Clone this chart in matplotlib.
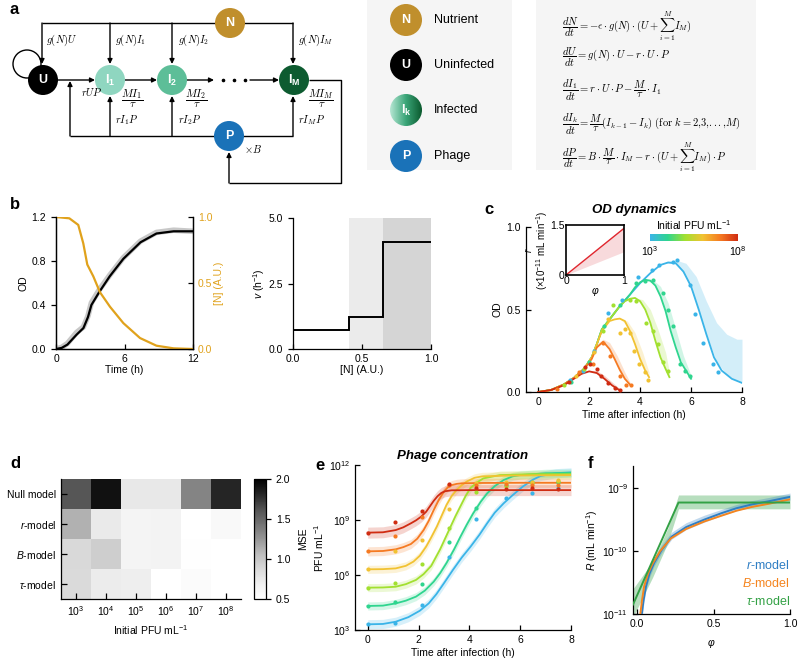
import numpy as np
import matplotlib
matplotlib.use('Agg')
import matplotlib.pyplot as plt
from matplotlib.colors import LinearSegmentedColormap, Normalize
from matplotlib.patches import Circle, Rectangle
from matplotlib.cm import ScalarMappable
from matplotlib.ticker import NullLocator

plt.rcParams['font.family'] = ['Liberation Sans', 'DejaVu Sans']
plt.rcParams['font.size'] = 7.5
plt.rcParams['mathtext.fontset'] = 'custom'
plt.rcParams['mathtext.rm'] = 'Liberation Sans'
plt.rcParams['mathtext.it'] = 'Liberation Sans:italic'
plt.rcParams['mathtext.bf'] = 'Liberation Sans:bold'
plt.rcParams['axes.linewidth'] = 0.9
plt.rcParams['xtick.major.width'] = 0.9
plt.rcParams['ytick.major.width'] = 0.9
plt.rcParams['xtick.major.size'] = 3.5
plt.rcParams['ytick.major.size'] = 3.5

# ---------------- data ----------------
# b: batch growth without phage
b_time = [0, 0.5, 1.0, 1.8, 2.4, 2.8, 3.1, 3.8, 4.7, 5.9, 7.4, 8.8, 10.3, 12]
b_od_fit = [0.0, 0.01, 0.04, 0.13, 0.19, 0.29, 0.40, 0.52, 0.66, 0.82, 0.97, 1.05, 1.07, 1.07]
b_od_meas = [0.0, 0.015, 0.05, 0.15, 0.2, 0.3, 0.42, 0.54, 0.67, 0.83, 0.98, 1.06, 1.08, 1.07]
b_n_time = [0, 1.17, 1.95, 2.39, 2.74, 3.27, 3.85, 4.73, 5.9, 7.36, 8.8, 10.3, 12]
b_nutrient = [1.0, 0.99, 0.94, 0.80, 0.64, 0.55, 0.43, 0.32, 0.196, 0.083, 0.025, 0.005, 0.0]
b_n_edges = [0.0, 0.408, 0.654, 1.0]
b_rate = [0.72, 1.24, 4.09]

# c: OD dynamics, initial PFU 1e3 ... 1e8
pfu_labels = ['1e3', '1e4', '1e5', '1e6', '1e7', '1e8']
pfu_colors = ['#3ab4e8', '#2fd58f', '#a2e030', '#f1c232', '#f57a22', '#d02c12']

od_fit_t = [
    [0, 0.5, 1.0, 1.4, 1.8, 2.1, 2.3, 2.5, 2.8, 3.2, 3.6, 4.0, 4.4, 4.8, 5.1, 5.4, 5.7, 6.0, 6.3, 6.6, 6.9, 7.2, 7.6, 8.0],
    [0, 0.5, 1.0, 1.4, 1.8, 2.1, 2.3, 2.5, 2.8, 3.2, 3.6, 3.8, 4.0, 4.2, 4.4, 4.6, 4.8, 5.0, 5.2, 5.4, 5.6, 5.8, 6.0],
    [0, 0.5, 1.0, 1.4, 1.8, 2.1, 2.3, 2.5, 2.8, 3.2, 3.4, 3.6, 3.8, 4.0, 4.2, 4.4, 4.6, 4.8, 5.0, 5.15],
    [0, 0.5, 1.0, 1.4, 1.8, 2.1, 2.3, 2.5, 2.8, 3.0, 3.2, 3.4, 3.6, 3.8, 4.0, 4.2, 4.35],
    [0, 0.5, 1.0, 1.4, 1.8, 2.1, 2.3, 2.55, 2.8, 3.0, 3.2, 3.4, 3.6],
    [0, 0.5, 1.0, 1.4, 1.7, 2.0, 2.3, 2.6, 2.9, 3.2],
]
od_fit = [
    [0.0, 0.012, 0.045, 0.085, 0.14, 0.21, 0.29, 0.38, 0.44, 0.52, 0.59, 0.66, 0.72, 0.77, 0.785, 0.78, 0.73, 0.64, 0.50, 0.35, 0.21, 0.13, 0.08, 0.055],
    [0.0, 0.012, 0.045, 0.085, 0.14, 0.21, 0.29, 0.38, 0.44, 0.52, 0.59, 0.635, 0.665, 0.68, 0.675, 0.645, 0.58, 0.49, 0.37, 0.27, 0.18, 0.13, 0.08],
    [0.0, 0.012, 0.045, 0.085, 0.14, 0.21, 0.29, 0.38, 0.44, 0.52, 0.55, 0.565, 0.57, 0.55, 0.50, 0.42, 0.31, 0.21, 0.14, 0.09],
    [0.0, 0.012, 0.045, 0.085, 0.14, 0.21, 0.29, 0.37, 0.43, 0.44, 0.445, 0.43, 0.37, 0.29, 0.20, 0.13, 0.09],
    [0.0, 0.012, 0.045, 0.085, 0.14, 0.20, 0.27, 0.305, 0.26, 0.20, 0.135, 0.08, 0.045],
    [0.0, 0.012, 0.04, 0.08, 0.11, 0.125, 0.115, 0.08, 0.04, 0.01],
]
od_band_t = [
    [5.0, 5.4, 5.8, 6.2, 6.6, 7.0, 7.4, 7.8, 8.0],
    [4.2, 4.5, 4.8, 5.1, 5.4, 5.7, 6.0],
    [3.8, 4.1, 4.4, 4.7, 5.0, 5.15],
    [3.2, 3.5, 3.8, 4.1, 4.35],
    [2.3, 2.55, 2.8, 3.1, 3.4, 3.6],
    [2.0, 2.3, 2.6, 2.9, 3.2],
]
od_band_hi = [
    [0.79, 0.80, 0.78, 0.70, 0.55, 0.42, 0.35, 0.32, 0.32],
    [0.68, 0.68, 0.64, 0.54, 0.38, 0.22, 0.10],
    [0.57, 0.56, 0.50, 0.38, 0.24, 0.12],
    [0.445, 0.43, 0.36, 0.24, 0.12],
    [0.29, 0.32, 0.30, 0.22, 0.12, 0.06],
    [0.13, 0.13, 0.10, 0.06, 0.02],
]
od_pts_t = [
    [1.25, 1.75, 2.2, 2.75, 3.3, 3.9, 4.45, 4.75, 5.3, 5.45, 5.95, 6.15, 6.45, 6.85, 7.05],
    [1.3, 2.0, 2.6, 3.2, 3.85, 4.2, 4.5, 4.9, 5.1, 5.3, 5.55, 5.75, 5.95],
    [1.0, 1.8, 2.55, 2.95, 3.6, 3.85, 4.25, 4.5, 4.7, 4.9, 5.1],
    [1.5, 2.2, 2.75, 3.2, 3.4, 3.6, 3.75, 3.95, 4.2, 4.3],
    [0.75, 1.6, 2.15, 2.55, 2.8, 3.2, 3.45, 3.65],
    [1.2, 1.85, 2.05, 2.3, 2.45, 2.75, 3.0, 3.2],
]
od_pts = [
    [0.07, 0.13, 0.25, 0.48, 0.56, 0.70, 0.74, 0.77, 0.79, 0.80, 0.65, 0.47, 0.30, 0.17, 0.12],
    [0.06, 0.18, 0.40, 0.53, 0.66, 0.67, 0.68, 0.60, 0.50, 0.40, 0.17, 0.13, 0.10],
    [0.04, 0.14, 0.37, 0.53, 0.56, 0.55, 0.42, 0.37, 0.29, 0.18, 0.13],
    [0.10, 0.24, 0.44, 0.36, 0.38, 0.36, 0.25, 0.17, 0.12, 0.07],
    [0.02, 0.12, 0.17, 0.30, 0.22, 0.10, 0.04, 0.04],
    [0.06, 0.15, 0.17, 0.14, 0.10, 0.055, 0.025, 0.01],
]
inset_phi = [0.0, 1.0]
inset_r = [0.0, 1.4]
inset_r_lo = [0.0, 0.7]
inset_r_hi = [0.0, 1.45]

# d: MSE per model and initial PFU
d_models = ['Null model', r'$r$-model', r'$B$-model', r'$\tau$-model']
d_pfu = [r'$10^3$', r'$10^4$', r'$10^5$', r'$10^6$', r'$10^7$', r'$10^8$']
d_mse = [
    [1.60, 1.91, 0.75, 0.75, 1.34, 1.81],
    [1.12, 0.74, 0.63, 0.65, 0.50, 0.57],
    [0.87, 0.95, 0.63, 0.65, 0.51, 0.50],
    [0.86, 0.72, 0.70, 0.50, 0.55, 0.50],
]

# e: phage concentration (log10 PFU/mL)
e_fit_t = [
    [0, 0.6, 1.1, 1.6, 2.05, 2.4, 2.7, 3.0, 3.35, 3.7, 4.05, 4.4, 4.7, 5.0, 5.35, 5.7, 6.1, 6.5, 6.8, 7.4, 8.0],
    [0, 0.6, 1.1, 1.5, 1.9, 2.25, 2.6, 2.85, 3.1, 3.4, 3.65, 3.9, 4.15, 4.45, 4.7, 5.0, 5.35, 5.7, 6.0, 7.0, 8.0],
    [0, 0.6, 1.1, 1.5, 1.9, 2.2, 2.5, 2.85, 3.05, 3.25, 3.45, 3.65, 3.85, 4.05, 4.3, 4.55, 5.2, 6.5, 8.0],
    [0, 0.6, 1.1, 1.5, 1.8, 2.05, 2.3, 2.5, 2.72, 2.9, 3.1, 3.3, 3.5, 3.7, 3.9, 4.2, 4.5, 5.5, 8.0],
    [0, 0.6, 1.1, 1.4, 1.7, 1.95, 2.2, 2.4, 2.6, 2.8, 3.0, 3.15, 3.3, 3.5, 3.7, 4.5, 6.0, 8.0],
    [0, 0.6, 1.1, 1.4, 1.7, 1.9, 2.1, 2.3, 2.45, 2.6, 2.75, 2.9, 3.05, 3.3, 4.0, 6.0, 8.0],
]
e_fit_log = [
    [3.31, 3.33, 3.45, 3.7, 4.05, 4.45, 4.95, 5.55, 6.27, 6.95, 7.55, 8.2, 8.82, 9.4, 9.91, 10.35, 10.82, 11.2, 11.4, 11.55, 11.6],
    [4.31, 4.33, 4.45, 4.6, 4.82, 5.15, 5.64, 6.1, 6.65, 7.4, 8.09, 8.75, 9.36, 10.0, 10.45, 10.85, 11.18, 11.38, 11.45, 11.55, 11.57],
    [5.31, 5.32, 5.36, 5.5, 5.73, 6.05, 6.5, 7.4, 8.0, 8.6, 9.2, 9.75, 10.3, 10.75, 11.05, 11.27, 11.45, 11.5, 11.5],
    [6.31, 6.32, 6.36, 6.5, 6.73, 7.05, 7.55, 8.05, 8.64, 9.2, 9.82, 10.3, 10.64, 10.9, 11.1, 11.3, 11.38, 11.42, 11.45],
    [7.29, 7.31, 7.4, 7.52, 7.69, 7.98, 8.45, 8.95, 9.55, 10.1, 10.55, 10.78, 10.9, 10.97, 11.0, 11.02, 11.03, 11.03],
    [8.31, 8.33, 8.45, 8.6, 8.82, 8.98, 9.18, 9.45, 9.75, 10.05, 10.3, 10.48, 10.57, 10.62, 10.63, 10.63, 10.63],
]
e_band = [0.25, 0.22, 0.22, 0.22, 0.25, 0.3]
e_pts_t = [0, 1.08, 2.13, 3.18, 4.25, 5.45, 6.45, 7.5]
e_pts_log = [
    [3.31, 3.4, 4.35, 7.0, 9.07, 10.18, 10.5, 10.75],
    [4.31, 4.54, 5.49, 7.82, 9.66, 10.9, 11.1, 11.05],
    [5.31, 5.55, 6.58, 8.58, 10.55, 10.85, 11.0, 11.15],
    [6.31, 7.31, 7.91, 9.58, 11.0, 11.1, 11.05, 11.2],
    [7.29, 8.14, 9.15, 10.9, 10.9, 10.95, 10.9, 10.9],
    [8.31, 8.91, 9.49, 10.96, 10.75, 10.7, 10.75, 10.7],
]

# f: effective adsorption rate vs phi (log10 mL/min)
f_phi_r = [0.03, 0.04, 0.057, 0.08, 0.11, 0.16, 0.226, 0.32, 0.44, 0.55, 0.65, 0.75, 0.86, 1.0]
f_r = [-11.0, -10.8, -10.56, -10.36, -10.19, -9.98, -9.77, -9.62, -9.50, -9.40, -9.32, -9.26, -9.21, -9.14]
f_r_hi = [-10.9, -10.7, -10.48, -10.28, -10.11, -9.9, -9.70, -9.55, -9.43, -9.34, -9.26, -9.2, -9.15, -9.08]
f_r_lo = [-11.1, -10.88, -10.62, -10.42, -10.24, -10.03, -9.81, -9.66, -9.54, -9.44, -9.36, -9.3, -9.25, -9.19]
f_phi_b = [0.02, 0.03, 0.045, 0.07, 0.1, 0.15, 0.22, 0.32, 0.44, 0.55, 0.65, 0.75, 0.86, 1.0]
f_b = [-11.0, -10.8, -10.56, -10.36, -10.2, -10.0, -9.8, -9.65, -9.53, -9.44, -9.36, -9.3, -9.25, -9.18]
f_phi_tau = [-0.028, 0.27, 1.0]
f_tau = [-10.85, -9.23, -9.23]
f_phi_tau_band = [-0.028, 0.1, 0.2, 0.27, 1.0]
f_tau_hi = [-10.6, -10.17, -9.64, -9.11, -9.11]
f_tau_lo = [-11.05, -10.42, -9.87, -9.33, -9.33]

# ---------------- figure ----------------
W, H = 800, 661
fig = plt.figure(figsize=(8, 6.61), dpi=100)


def box(x0, y0, x1, y1):
    return [x0 / W, 1 - y1 / H, (x1 - x0) / W, (y1 - y0) / H]


def panel_letter(x, y, s):
    fig.text(x / W, 1 - y / H, s, fontsize=12, fontweight='bold', ha='left', va='center')


# ---- a: model scheme ----
ax = fig.add_axes(box(0, 0, 800, 185))
ax.set_xlim(0, 800)
ax.set_ylim(185, 0)
ax.axis('off')


def node(x, y, c, s, r=15, fs=9):
    ax.add_patch(Circle((x, y), r, fc=c, ec='none', zorder=3))
    ax.text(x, y, s, color='w', ha='center', va='center', fontweight='bold', fontsize=fs, zorder=4)


def seg(xs, ys):
    ax.plot(xs, ys, color='k', lw=1.0, solid_capstyle='butt', zorder=1)


def arr(x0, y0, x1, y1):
    ax.annotate('', xy=(x1, y1), xytext=(x0, y0),
                arrowprops=dict(arrowstyle='-|>', lw=1.0, color='k', mutation_scale=7,
                                shrinkA=0, shrinkB=0), zorder=2)


def mlab(x, y, s, ha='left', fs=7.5):
    ax.text(x, y, s, ha=ha, va='center', fontsize=fs, math_fontfamily='cm')


seg([42, 293], [23, 23])
for xx in [42, 110, 172, 293]:
    arr(xx, 23, xx, 64)
ax.add_patch(Circle((27, 64), 14, fc='none', ec='k', lw=1.0, zorder=1))
arr(58, 80, 95, 80)
arr(125, 80, 157, 80)
arr(187, 80, 214, 80)
for xx in [223, 234, 245]:
    ax.plot(xx, 80, 'o', color='k', ms=1.6)
arr(250, 80, 279, 80)
seg([309, 341, 341, 229], [80, 80, 183, 183])
arr(229, 183, 229, 152)
seg([70, 293], [136, 136])
arr(70, 136, 70, 81)
for xx in [110, 172, 293]:
    arr(xx, 136, xx, 96)

node(230, 23, '#c08f2c', 'N')
node(43, 80, 'k', 'U')
node(110, 80, '#8fd6c0', r'$\mathbf{I_1}$')
node(172, 80, '#5dbe98', r'$\mathbf{I_2}$')
node(294, 80, '#0d5b30', r'$\mathbf{I_M}$')
node(229, 136, '#1a72b8', 'P')

mlab(46, 40, r'$g(N)U$')
mlab(115, 40, r'$g(N)I_1$')
mlab(178, 40, r'$g(N)I_2$')
mlab(298, 40, r'$g(N)I_M$')
mlab(92, 92, r'$rUP$', ha='center')
mlab(132, 99, r'$\dfrac{MI_1}{\tau}$', ha='center', fs=8)
mlab(196, 99, r'$\dfrac{MI_2}{\tau}$', ha='center', fs=8)
mlab(321, 99, r'$\dfrac{MI_M}{\tau}$', ha='center', fs=8)
mlab(115, 120, r'$rI_1P$')
mlab(178, 120, r'$rI_2P$')
mlab(298, 120, r'$rI_MP$')
mlab(244, 149, r'$\times B$')

# legend box
ax.add_patch(Rectangle((367, 0), 145, 170, fc='#f5f5f5', ec='none', zorder=0))
leg_items = [('N', '#c08f2c', 'Nutrient'), ('U', 'k', 'Uninfected'),
             (None, None, 'Infected'), ('P', '#1a72b8', 'Phage')]
for i, (s, c, name) in enumerate(leg_items):
    yy = [20, 65, 110, 156][i]
    if s is None:
        circ = Circle((406, yy), 16, transform=ax.transData)
        im = ax.imshow(np.linspace(0, 1, 100).reshape(1, -1),
                       cmap=LinearSegmentedColormap.from_list('inf', ['#b5e6d3', '#3aa578', '#0b5a2e']),
                       extent=(390, 422, yy + 16, yy - 16), aspect='auto', zorder=3)
        im.set_clip_path(circ)
        ax.text(406, yy, r'$\mathbf{I_k}$', color='w', ha='center', va='center', fontsize=9, zorder=4)
    else:
        node(406, yy, c, s, r=16)
    ax.text(434, yy, name, ha='left', va='center', fontsize=9)

# equations box
ax.add_patch(Rectangle((536, 0), 220, 170, fc='#f5f5f5', ec='none', zorder=0))
eqs = [
    r'$\dfrac{dN}{dt}=-\epsilon\cdot g(N)\cdot(U+\sum_{i=1}^{M}I_M)$',
    r'$\dfrac{dU}{dt}=g(N)\cdot U-r\cdot U\cdot P$',
    r'$\dfrac{dI_1}{dt}=r\cdot U\cdot P-\dfrac{M}{\tau}\cdot I_1$',
    r'$\dfrac{dI_k}{dt}=\dfrac{M}{\tau}(I_{k-1}-I_k)\ \mathrm{(for}\ k=2{,}3{,}...{,}M\mathrm{)}$',
    r'$\dfrac{dP}{dt}=B\cdot\dfrac{M}{\tau}\cdot I_M-r\cdot(U+\sum_{i=1}^{M}I_M)\cdot P$',
]
for i, e in enumerate(eqs):
    ax.text(562, [26, 57, 90, 124, 157][i], e, ha='left', va='center', fontsize=7.6, math_fontfamily='cm')
ax.set_xlim(0, 800)
ax.set_ylim(185, 0)

panel_letter(10, 9, 'a')

# ---- b: growth and nutrient ----
gold = '#e0a21c'
ax = fig.add_axes(box(56, 217, 193, 349))
ax.plot(b_time, b_od_meas, color='#c8c8c8', lw=4, solid_capstyle='round')
ax.plot(b_time, b_od_fit, color='k', lw=1.6)
ax.set_xlim(0, 12)
ax.set_ylim(0, 1.2)
ax.set_xticks([0, 6, 12])
ax.set_yticks([0, 0.4, 0.8, 1.2])
ax.set_yticklabels(['0.0', '0.4', '0.8', '1.2'])
ax.set_xlabel('Time (h)', labelpad=1)
ax.set_ylabel('OD', labelpad=2)
ax.spines['top'].set_visible(False)
ax.tick_params(axis='x', direction='in')
ax.tick_params(axis='y', direction='out')
ax2 = ax.twinx()
ax2.plot(b_n_time, b_nutrient, color=gold, lw=1.6)
ax2.set_ylim(0, 1.0)
ax2.set_yticks([0, 0.5, 1.0])
ax2.set_yticklabels(['0.0', '0.5', '1.0'], color=gold)
ax2.set_ylabel('[N] (A.U.)', color=gold, labelpad=1)
ax2.spines['top'].set_visible(False)
ax2.tick_params(axis='y', direction='in')
panel_letter(10, 205, 'b')

ax = fig.add_axes(box(293, 218, 431, 349))
ax.axvspan(b_n_edges[1], b_n_edges[2], color='#ebebeb', lw=0)
ax.axvspan(b_n_edges[2], b_n_edges[3], color='#d5d5d5', lw=0)
ax.stairs(b_rate, b_n_edges, color='k', lw=1.4, baseline=None)
ax.set_xlim(0, 1)
ax.set_ylim(0, 5)
ax.set_xticks([0, 0.5, 1.0])
ax.set_xticklabels(['0.0', '0.5', '1.0'])
ax.set_yticks([0, 2.5, 5.0])
ax.set_yticklabels(['0.0', '2.5', '5.0'])
ax.set_xlabel('[N] (A.U.)', labelpad=1)
ax.set_ylabel(r'$v$ (h$^{-1}$)', labelpad=1)
for s in ['top', 'right']:
    ax.spines[s].set_visible(False)
ax.tick_params(axis='x', direction='in')
ax.tick_params(axis='y', direction='out')

# ---- c: OD dynamics ----
pfu_cmap = LinearSegmentedColormap.from_list('pfu', pfu_colors)
ax = fig.add_axes(box(526, 227, 742, 392))
for i in range(6):
    c = pfu_colors[i]
    lo = np.interp(od_band_t[i], od_fit_t[i], od_fit[i])
    ax.fill_between(od_band_t[i], lo, od_band_hi[i], color=c, alpha=0.22, lw=0)
for i in range(6):
    c = pfu_colors[i]
    ax.plot(od_fit_t[i], od_fit[i], color=c, lw=1.3, zorder=3)
    ax.scatter(od_pts_t[i], od_pts[i], s=9, color=c, lw=0, zorder=4)
ax.set_xlim(-0.48, 8)
ax.set_ylim(0, 1)
ax.set_xticks([0, 2, 4, 6, 8])
ax.set_yticks([0, 0.5, 1.0])
ax.set_yticklabels(['0.0', '0.5', '1.0'])
ax.set_xlabel('Time after infection (h)', labelpad=2)
ax.set_ylabel('OD', labelpad=3)
for s in ['top', 'right']:
    ax.spines[s].set_visible(False)
ax.tick_params(direction='in')
ax.set_title('OD dynamics', fontsize=9.5, fontweight='bold', fontstyle='italic', pad=10)
panel_letter(484, 210, 'c')

ins = fig.add_axes(box(566, 225, 624, 275))
ins.fill_between(inset_phi, inset_r_lo, inset_r_hi, color='#e8878c', alpha=0.3, lw=0)
ins.plot(inset_phi, inset_r, color='#e0262e', lw=1.0)
ins.set_xlim(0, 1)
ins.set_ylim(0, 1.5)
ins.set_xticks([0, 1])
ins.set_xticklabels(['0', '1'])
ins.set_yticks([0, 1.5])
ins.set_yticklabels(['0', '1.5'])
ins.tick_params(length=0, pad=1, labelsize=7.5)
ins.set_xlabel(r'$\varphi$', labelpad=-1)
ins.set_ylabel('$r$\n(×10$^{-11}$ mL min$^{-1}$)', fontsize=7, labelpad=0, linespacing=1.0)
for s in ins.spines.values():
    s.set_linewidth(1.2)

cax = fig.add_axes(box(650, 234, 738, 241))
cb = fig.colorbar(ScalarMappable(norm=Normalize(3, 8), cmap=pfu_cmap), cax=cax, orientation='horizontal')
cb.set_ticks([3, 8])
cb.set_ticklabels([r'$10^3$', r'$10^8$'])
cb.outline.set_visible(False)
cax.tick_params(length=0, pad=2)
cax.set_title('Initial PFU mL$^{-1}$', fontsize=7.5, pad=3)

# ---- d: MSE heatmap ----
ax = fig.add_axes(box(61, 479, 241, 599))
hm = ax.imshow(np.array(d_mse), cmap='Greys', vmin=0.5, vmax=2.0, aspect='auto')
ax.set_xticks(range(6))
ax.set_xticklabels(d_pfu)
ax.set_yticks(range(4))
ax.set_yticklabels(d_models)
ax.set_xlabel('Initial PFU mL$^{-1}$', labelpad=4)
for s in ['top', 'right']:
    ax.spines[s].set_visible(False)
ax.tick_params(direction='in', length=4)
cax = fig.add_axes(box(254, 479, 266, 599))
cb = fig.colorbar(hm, cax=cax)
cb.set_ticks([0.5, 1.0, 1.5, 2.0])
cb.set_label('MSE', labelpad=6)
cb.outline.set_linewidth(0.9)
panel_letter(10, 463, 'd')

# ---- e: phage concentration ----
ax = fig.add_axes(box(355, 465, 571, 630))
for i in range(6):
    c = pfu_colors[i]
    y = np.array(e_fit_log[i])
    ax.fill_between(e_fit_t[i], 10 ** (y - e_band[i]), 10 ** (y + e_band[i]), color=c, alpha=0.2, lw=0)
for i in range(6):
    c = pfu_colors[i]
    ax.plot(e_fit_t[i], 10 ** np.array(e_fit_log[i]), color=c, lw=1.3, zorder=3)
    ax.scatter(e_pts_t, 10 ** np.array(e_pts_log[i]), s=9, color=c, lw=0, zorder=4)
ax.set_yscale('log')
ax.set_xlim(-0.5, 8)
ax.set_ylim(1e3, 1e12)
ax.set_yticks([1e3, 1e6, 1e9, 1e12])
ax.yaxis.set_minor_locator(NullLocator())
ax.set_xticks([0, 2, 4, 6, 8])
ax.set_xlabel('Time after infection (h)', labelpad=2)
ax.set_ylabel('PFU mL$^{-1}$', labelpad=2)
for s in ['top', 'right']:
    ax.spines[s].set_visible(False)
ax.tick_params(direction='in')
ax.set_title('Phage concentration', fontsize=9.5, fontweight='bold', fontstyle='italic', pad=4)
panel_letter(315, 465, 'e')

# ---- f: adsorption rate ----
c_r, c_b, c_t = '#2f7ec4', '#f5851f', '#33a145'
ax = fig.add_axes(box(633, 466, 790, 614))
ax.fill_between(f_phi_tau_band, 10 ** np.array(f_tau_lo), 10 ** np.array(f_tau_hi), color=c_t, alpha=0.35, lw=0)
ax.fill_between(f_phi_r, 10 ** np.array(f_r_lo), 10 ** np.array(f_r_hi), color=c_r, alpha=0.3, lw=0)
ax.plot(f_phi_r, 10 ** np.array(f_r), color=c_r, lw=1.4, zorder=3)
ax.plot(f_phi_b, 10 ** np.array(f_b), color=c_b, lw=1.4, zorder=3)
ax.plot(f_phi_tau, 10 ** np.array(f_tau), color=c_t, lw=1.4, zorder=3)
ax.set_yscale('log')
ax.set_xlim(-0.028, 1.0)
ax.set_ylim(1e-11, 10 ** -8.65)
ax.set_yticks([1e-11, 1e-10, 1e-9])
ax.yaxis.set_minor_locator(NullLocator())
ax.set_xticks([0, 0.5, 1.0])
ax.set_xticklabels(['0.0', '0.5', '1.0'])
ax.set_xlabel(r'$\varphi$', labelpad=6)
ax.set_ylabel(r'$R$ (mL min$^{-1}$)', labelpad=2)
for s in ['top', 'right']:
    ax.spines[s].set_visible(False)
ax.tick_params(direction='in')
for lab, c, yy in [(r'$r$-model', c_r, 0.285), (r'$B$-model', c_b, 0.165), (r'$\tau$-model', c_t, 0.04)]:
    ax.text(1.0, yy, lab, color=c, transform=ax.transAxes, ha='right', va='bottom', fontsize=9)
panel_letter(588, 463, 'f')

fig.savefig('out.png', dpi=100)
